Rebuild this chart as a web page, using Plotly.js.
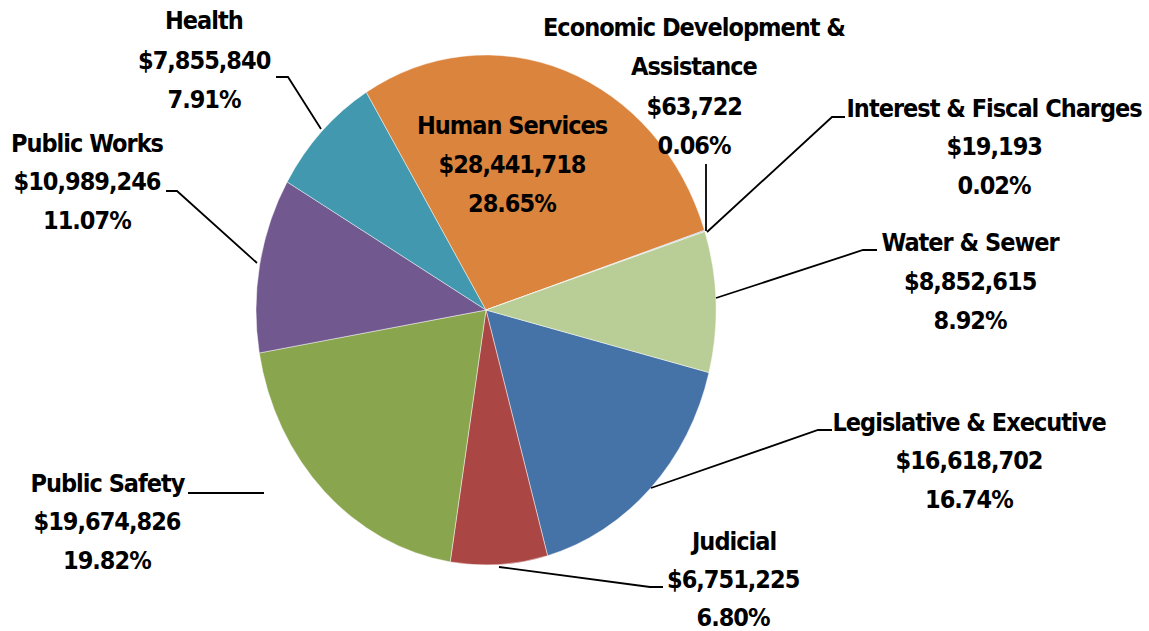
<!DOCTYPE html>
<html>
<head>
<meta charset="utf-8">
<script src="https://cdn.plot.ly/plotly-3.0.1.min.js"></script>
<style>
  html, body { margin: 0; padding: 0; background: #ffffff; }
  #chart { width: 1149px; height: 631px; }
  #chart .annotation-text { letter-spacing: -1px; }
</style>
</head>
<body>
<div id="chart"></div>
<script>
// ---------------- data ----------------
const categories = [
  'Legislative & Executive', 'Judicial', 'Public Safety', 'Public Works', 'Health',
  'Human Services', 'Economic Development & Assistance', 'Interest & Fiscal Charges', 'Water & Sewer'
];
const displayNames = [
  ['Legislative & Executive'], ['Judicial'], ['Public Safety'], ['Public Works'], ['Health'],
  ['Human Services'], ['Economic Development &', 'Assistance'], ['Interest & Fiscal Charges'], ['Water & Sewer']
];
const amounts = [16618702, 6751225, 19674826, 10989246, 7855840, 28441718, 63722, 19193, 8852615];
const sliceColors = ['#4572A7', '#AA4643', '#89A54E', '#71588F', '#4198AF', '#DB843D', '#8EA5CB', '#CE8E8D', '#B9CD96'];

// ---------------- layout helpers (pixel positions of labels / leader lines) ----------------
const W = 1149, H = 631;
const labelAnchors = [   // [centre x, y of first line]
  [969, 422],   // Legislative
  [733, 541],   // Judicial
  [107, 483],   // Public Safety
  [87, 143],    // Public Works
  [204, 21],    // Health
  [512, 126],   // Human Services
  [694, 28],    // Econ Dev
  [994, 108],   // Interest
  [970, 242]    // Water & Sewer
];
const lineSteps = [38.6, 38, 38.6, 38.6, 39.5, 38.6, 39, 38.6, 39];
const leaderPaths = [
  [[832, 430], [818, 430], [651, 488]],
  [[663, 587], [650, 587], [499, 567]],
  [[188, 493], [264, 493]],
  [[166, 191], [177, 191], [257, 263]],
  [[276, 77], [288, 77], [321, 129]],
  null,
  [[706, 164], [706, 231]],
  [[845, 117], [832, 117], [707, 232]],
  [[877, 250], [863, 250], [716, 298]]
];
const pieCenter = [486, 310];
const pieRadiusX = 230;
const pieRadiusY = 255;

const total = amounts.reduce((a, b) => a + b, 0);
const px = x => x / W;
const py = y => 1 - y / H;

const FONT = "'DejaVu Sans Condensed', 'DejaVu Sans', sans-serif";

const annotations = [];
categories.forEach((c, i) => {
  const pct = (amounts[i] / total * 100).toFixed(2) + '%';
  const money = '$' + amounts[i].toLocaleString('en-US');
  const lines = displayNames[i].concat([money, pct]);
  lines.forEach((ln, k) => {
    annotations.push({
      xref: 'paper', yref: 'paper',
      x: px(labelAnchors[i][0]), y: py(labelAnchors[i][1] + k * lineSteps[i]),
      xanchor: 'center', yanchor: 'middle',
      showarrow: false,
      borderpad: 0,
      text: '<b>' + ln + '</b>',
      font: { family: FONT, size: 25, color: '#000000' }
    });
  });
});

const shapes = leaderPaths.filter(p => p).map(p => ({
  type: 'path', xref: 'paper', yref: 'paper',
  path: p.map((pt, k) => (k ? 'L' : 'M') + px(pt[0]).toFixed(5) + ',' + py(pt[1]).toFixed(5)).join(' '),
  line: { color: '#000000', width: 1.8 }
}));

const trace = {
  type: 'pie',
  labels: categories,
  values: amounts,
  sort: false,
  direction: 'clockwise',
  rotation: 104.2,
  textinfo: 'none',
  hoverinfo: 'skip',
  showlegend: false,
  marker: { colors: sliceColors, line: { color: 'rgba(255,255,255,0.55)', width: 0.8 } },
  domain: {
    x: [px(pieCenter[0] - pieRadiusX), px(pieCenter[0] + pieRadiusX)],
    y: [py(pieCenter[1] + pieRadiusX), py(pieCenter[1] - pieRadiusX)]
  }
};

const layout = {
  width: W, height: H,
  margin: { l: 0, r: 0, t: 0, b: 0 },
  paper_bgcolor: '#ffffff',
  plot_bgcolor: '#ffffff',
  showlegend: false,
  annotations: annotations,
  shapes: shapes
};

Plotly.newPlot('chart', [trace], layout, { displayModeBar: false, staticPlot: true }).then(() => {
  // Reference pie is slightly taller than wide: stretch pie layer vertically about its centre.
  const pl = document.querySelector('.pielayer');
  if (pl) {
    const k = pieRadiusY / pieRadiusX;
    const cy = pieCenter[1];
    pl.setAttribute('transform', 'translate(0,' + cy + ') scale(1,' + k + ') translate(0,' + (-cy) + ')');
  }
});
</script>
</body>
</html>
